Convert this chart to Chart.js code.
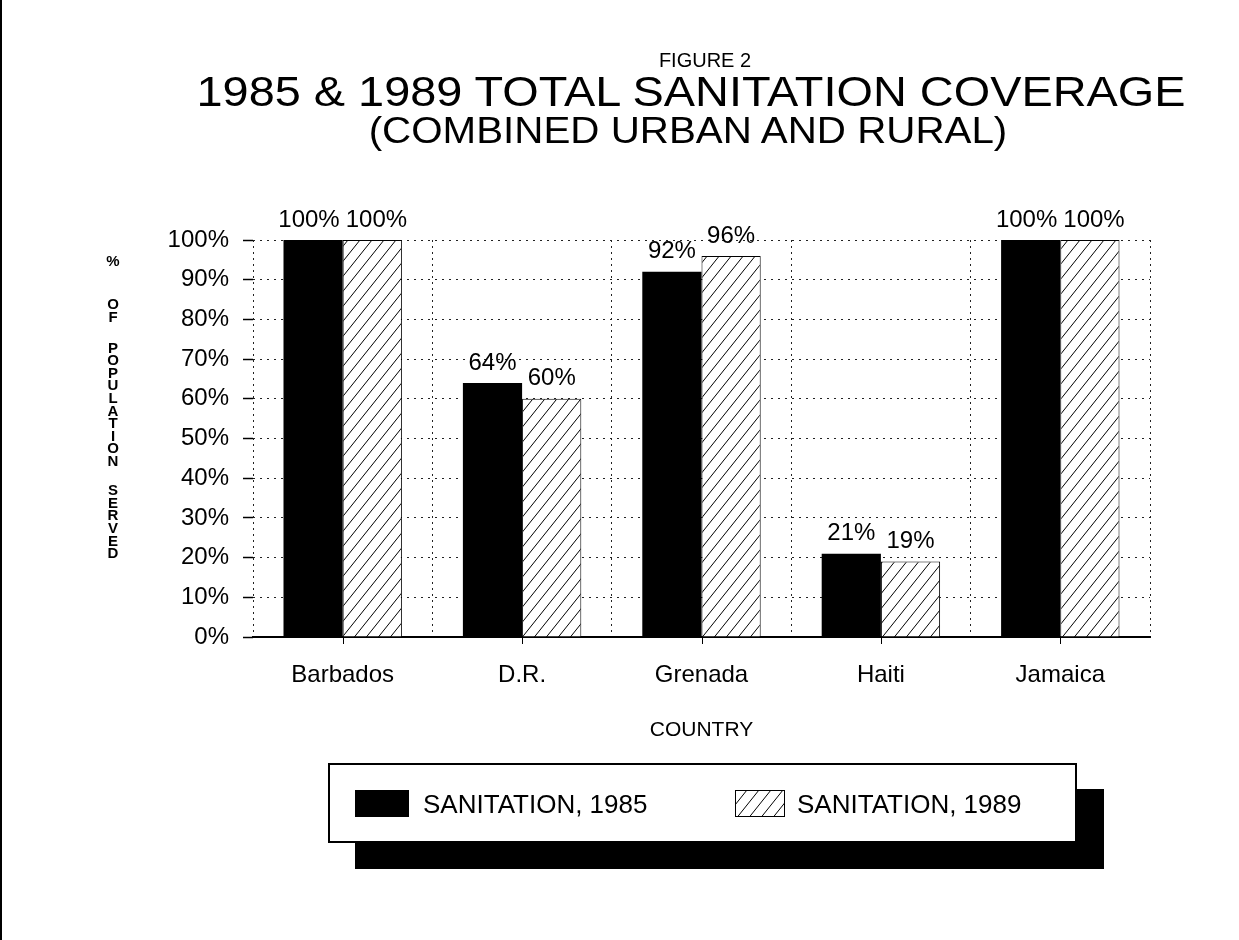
<!DOCTYPE html>
<html>
<head>
<meta charset="utf-8">
<title>Figure 2 - 1985 &amp; 1989 Total Sanitation Coverage</title>
<script src="https://cdn.jsdelivr.net/npm/chart.js@4.4.1/dist/chart.umd.min.js"></script>
<style>
  body{margin:0;background:#fff;font-family:'Liberation Sans',Arial,sans-serif;color:#000}
  #page{position:relative;width:1239px;height:940px;overflow:hidden}
  #frame{position:absolute;left:0;top:0;width:2px;height:940px;background:#000}
  #chart{position:absolute;left:0;top:0}
  .t{position:absolute;white-space:nowrap;line-height:1}
  #fig{left:705px;top:60px;font-size:20px;transform:translate(-50%,-50%)}
  #title{left:691px;top:91px;font-size:43px;transform:translate(-50%,-50%) scaleX(1.09)}
  #sub{left:688px;top:130px;font-size:37px;transform:translate(-50%,-50%) scaleX(1.09)}
  #legend{position:absolute;left:328px;top:763px;width:749px;height:80px;box-sizing:border-box;border:2px solid #000;background:#fff;box-shadow:27px 26px 0 #000}
  #legend .sw{position:absolute;top:25px;height:27px}
  #legend .lt{position:absolute;top:39px;transform:translateY(-50%);font-size:26px;line-height:1;white-space:nowrap}
</style>
</head>
<body>
<div id="page">
  <div id="frame"></div>
  <canvas id="chart" width="1239" height="940"></canvas>
  <div class="t" id="fig">FIGURE 2</div>
  <div class="t" id="title">1985 &amp; 1989 TOTAL SANITATION COVERAGE</div>
  <div class="t" id="sub">(COMBINED URBAN AND RURAL)</div>
  <div id="legend"></div>
</div>
<script>
const countries = ['Barbados','D.R.','Grenada','Haiti','Jamaica'];
const sanitation1985 = [100,64,92,21,100];
const sanitation1989 = [100,60,96,19,100];
const seriesNames = ['SANITATION, 1985','SANITATION, 1989'];
const yMax = 100, yStep = 10;
const yTitleWords = ['%','OF','POPULATION','SERVED'];
const xTitle = 'COUNTRY';

const FONT = "'Liberation Sans', Arial, sans-serif";

// diagonal "/" hatch, like the printed fill
function hatch(ctx){
  const c = document.createElement('canvas'); c.width = 12; c.height = 15;
  const g = c.getContext('2d');
  g.fillStyle = '#fff'; g.fillRect(0,0,12,15);
  g.strokeStyle = '#000'; g.lineWidth = 1;
  g.beginPath();
  for (const dx of [-12,0,12]) { g.moveTo(dx,15); g.lineTo(dx+12,0); }
  g.stroke();
  return ctx.createPattern(c,'repeat');
}

const cv = document.getElementById('chart');
const ctx = cv.getContext('2d');

// legend (html box with drop shadow)
const legend = document.getElementById('legend');
legend.innerHTML =
  `<div class="sw" style="left:25px;width:54px;background:#000"></div><div class="lt" style="left:93px">${seriesNames[0]}</div>` +
  `<canvas class="sw" id="sw2" width="50" height="27" style="left:405px;width:50px"></canvas><div class="lt" style="left:467px">${seriesNames[1]}</div>`;
const sw = document.getElementById('sw2').getContext('2d');
sw.fillStyle = hatch(sw); sw.fillRect(0,0,50,27);
sw.strokeStyle = '#000'; sw.lineWidth = 1; sw.strokeRect(0.5,0.5,49,26);

const valueLabels = {
  id: 'valueLabels',
  afterDatasetsDraw(chart){
    const c = chart.ctx;
    c.save();
    c.font = `24px ${FONT}`; c.fillStyle = '#000';
    c.textAlign = 'center'; c.textBaseline = 'middle';
    const a = chart.getDatasetMeta(0).data, b = chart.getDatasetMeta(1).data;
    const d0 = chart.data.datasets[0].data, d1 = chart.data.datasets[1].data;
    a.forEach((bar,j) => {
      const t0 = d0[j] + '%', t1 = d1[j] + '%';
      const w0 = c.measureText(t0).width, w1 = c.measureText(t1).width;
      // push the two labels apart when they would touch
      const gap = (b[j].x - w1/2) - (bar.x + w0/2);
      const push = gap < 6 ? (6 - gap)/2 : 0;
      c.fillText(t0, bar.x - push, bar.y - 20);
      c.fillText(t1, b[j].x + push, b[j].y - 20);
    });
    c.restore();
  }
};

// stacked letters for the y title, small ticks under each country
const extras = {
  id: 'extras',
  afterDraw(chart){
    const c = chart.ctx;
    const starts = [262, 305, 348.5, 491];
    c.save();
    c.font = `bold 15px ${FONT}`; c.fillStyle = '#000';
    c.textAlign = 'center'; c.textBaseline = 'middle';
    yTitleWords.forEach((w,k) => {
      [...w].forEach((ch,n) => c.fillText(ch, 113, starts[k] + n*12.6));
    });
    const x = chart.scales.x, y0 = chart.chartArea.bottom;
    c.strokeStyle = '#000'; c.lineWidth = 1;
    c.beginPath();
    countries.forEach((_,i) => {
      const px = Math.round(x.getPixelForValue(i)) + 0.5;
      c.moveTo(px, y0 + 1); c.lineTo(px, y0 + 7);
    });
    c.stroke();
    c.restore();
  }
};

new Chart(cv, {
  type: 'bar',
  data: {
    labels: countries,
    datasets: [
      {label: seriesNames[0], data: sanitation1985, backgroundColor: '#000', borderWidth: 0},
      {label: seriesNames[1], data: sanitation1989, backgroundColor: hatch(ctx), borderColor: '#000', borderWidth: 1}
    ]
  },
  options: {
    responsive: false, animation: false, devicePixelRatio: 1,
    layout: {padding: {left: 0, top: 240, right: 89, bottom: 193}},
    datasets: {bar: {categoryPercentage: 0.66, barPercentage: 1}},
    plugins: {legend: {display: false}, tooltip: {enabled: false}},
    scales: {
      x: {
        offset: true,
        grid: {offset: true, drawTicks: false, lineWidth: 1,
               color: c => c.index === countries.length ? 'rgba(0,0,0,0)' : '#222'},
        border: {display: true, color: '#000', width: 2, dash: [2,4]},
        ticks: {color: '#000', font: {family: FONT, size: 24}, padding: 24},
        title: {display: true, text: xTitle, color: '#000', font: {family: FONT, size: 21}, padding: {top: 4, bottom: 4}}
      },
      y: {
        min: 0, max: yMax,
        afterFit: s => { s.width = 253; },
        grid: {color: '#222', lineWidth: 1, tickLength: 10, tickColor: '#000', tickWidth: 1.5, tickBorderDash: []},
        border: {display: false, dash: [2,5]},
        ticks: {stepSize: yStep, color: '#000', padding: 14, font: {family: FONT, size: 24}, callback: v => v + '%'}
      }
    }
  },
  plugins: [valueLabels, extras]
});
</script>
</body>
</html>
